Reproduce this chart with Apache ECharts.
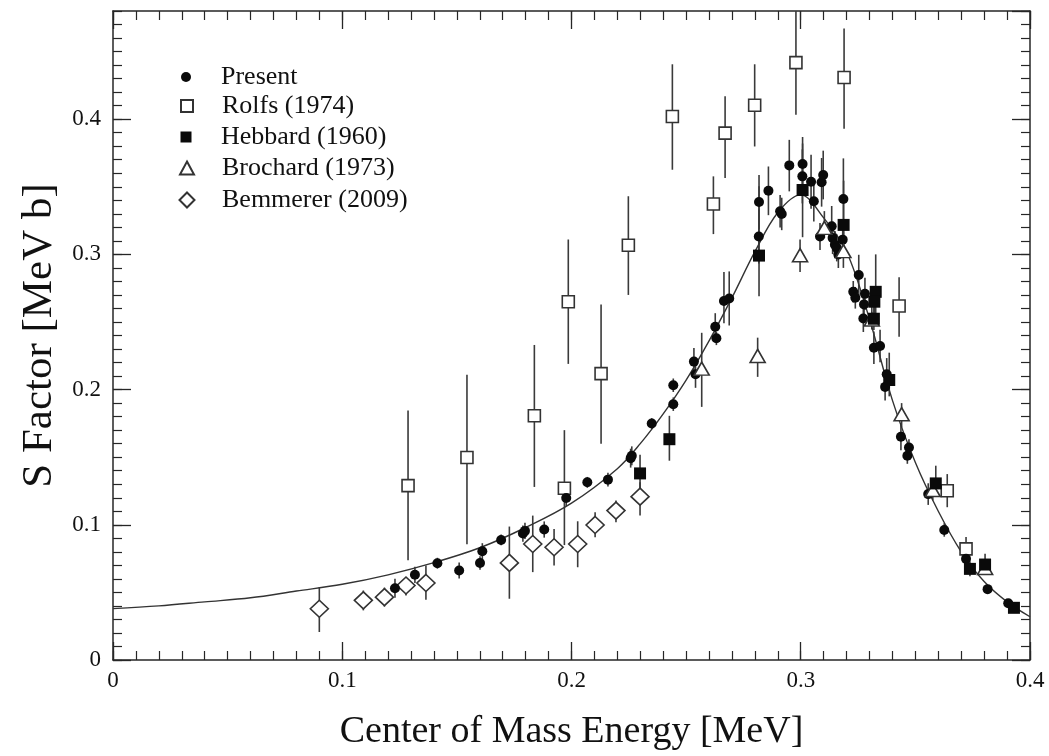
<!DOCTYPE html>
<html><head><meta charset="utf-8">
<script src="https://cdn.jsdelivr.net/npm/echarts@6/dist/echarts.min.js"></script>
<style>html,body{margin:0;padding:0;background:#fff}#c{width:1049px;height:756px}</style>
</head><body><div id="c"></div>
<script>
// ---- data ----
const fitX = [0, 0.02, 0.04, 0.06, 0.08, 0.10, 0.12, 0.14, 0.16, 0.18, 0.20, 0.22, 0.23, 0.24, 0.25, 0.26, 0.27, 0.28, 0.29, 0.30, 0.31, 0.32, 0.33, 0.34, 0.35, 0.36, 0.37, 0.38, 0.39, 0.40];
const fitY = [0.038, 0.040, 0.043, 0.046, 0.051, 0.056, 0.063, 0.072, 0.083, 0.098, 0.116, 0.1415, 0.160, 0.182, 0.207, 0.236, 0.268, 0.302, 0.331, 0.344, 0.327, 0.302, 0.252, 0.192, 0.146, 0.110, 0.080, 0.058, 0.043, 0.032];

// [energy, S, errLow, errHigh]
const presentData = [
  [0.1230,0.0531,0.0461,0.0601],[0.1317,0.0630,0.0570,0.0690],[0.1415,0.0716,0.0676,0.0756],
  [0.1510,0.0662,0.0602,0.0722],[0.1601,0.0718,0.0668,0.0768],[0.1611,0.0804,0.0744,0.0864],
  [0.1693,0.0888,0.0848,0.0928],[0.1788,0.0935,0.0875,0.0995],[0.1797,0.0955,0.0895,0.1015],
  [0.1881,0.0965,0.0905,0.1025],[0.1977,0.1198,0.1138,0.1258],[0.2069,0.1314,0.1274,0.1354],
  [0.2159,0.1334,0.1284,0.1384],[0.2258,0.1493,0.1423,0.1563],[0.2263,0.1510,0.1440,0.1580],
  [0.2350,0.1749,0.1709,0.1789],[0.2444,0.1892,0.1842,0.1942],[0.2444,0.2032,0.1982,0.2082],
  [0.2534,0.2207,0.2107,0.2307],[0.2541,0.2113,0.2013,0.2213],[0.2627,0.2465,0.2365,0.2565],
  [0.2632,0.2379,0.2329,0.2429],[0.2665,0.2655,0.2490,0.2870],[0.2688,0.2674,0.2474,0.2874],
  [0.2817,0.3132,0.2932,0.3332],[0.2818,0.3387,0.3187,0.3587],[0.2859,0.3471,0.3290,0.3650],
  [0.2910,0.3319,0.3199,0.3439],[0.2917,0.3299,0.3179,0.3419],[0.2950,0.3658,0.3466,0.3847],
  [0.3007,0.3577,0.3377,0.3777],[0.3008,0.3668,0.3468,0.3868],[0.3045,0.3537,0.3337,0.3737],
  [0.3057,0.3393,0.3243,0.3543],[0.3084,0.3132,0.3032,0.3232],[0.3091,0.3533,0.3353,0.3713],
  [0.3098,0.3587,0.3407,0.3767],[0.3135,0.3208,0.3058,0.3358],[0.3139,0.3122,0.3002,0.3242],
  [0.3149,0.3072,0.2972,0.3172],[0.3157,0.3048,0.2948,0.3148],[0.3164,0.2999,0.2899,0.3099],
  [0.3183,0.3109,0.2989,0.3229],[0.3186,0.3410,0.3110,0.3710],[0.3229,0.2723,0.2643,0.2803],
  [0.3238,0.2679,0.2599,0.2759],[0.3253,0.2847,0.2697,0.2997],[0.3276,0.2630,0.2530,0.2730],
  [0.3280,0.2708,0.2588,0.2828],[0.3273,0.2526,0.2426,0.2626],[0.3319,0.2310,0.2190,0.2430],
  [0.3346,0.2323,0.2203,0.2443],[0.3368,0.2020,0.1920,0.2120],[0.3375,0.2113,0.1993,0.2233],
  [0.3437,0.1651,0.1551,0.1751],[0.3465,0.1511,0.1451,0.1571],[0.3472,0.1572,0.1512,0.1632],
  [0.3556,0.1227,0.1147,0.1307],[0.3626,0.0962,0.0912,0.1012],[0.3721,0.0748,0.0708,0.0788],
  [0.3815,0.0524,0.0494,0.0554],[0.3905,0.0420,0.0390,0.0450]
];
const rolfsData = [
  [0.1287,0.1290,0.0738,0.1845],[0.1544,0.1498,0.0856,0.2110],[0.1838,0.1806,0.1280,0.2330],
  [0.1969,0.1270,0.0850,0.1700],[0.1986,0.2650,0.2190,0.3110],[0.2129,0.2118,0.1600,0.2630],
  [0.2248,0.3068,0.2700,0.3430],[0.2440,0.4020,0.3626,0.4406],[0.2619,0.3373,0.3150,0.3577],
  [0.2670,0.3897,0.3565,0.4170],[0.2799,0.4103,0.3798,0.4406],[0.2979,0.4418,0.4032,0.4900],
  [0.3189,0.4308,0.3930,0.4670],[0.3429,0.2618,0.2390,0.2830],[0.3639,0.1252,0.1130,0.1375],
  [0.3721,0.0822,0.0740,0.0910]
];
const hebbardData = [
  [0.2299,0.1380,0.1250,0.1518],[0.2427,0.1633,0.1474,0.1806],[0.2818,0.2991,0.2691,0.3503],
  [0.3008,0.3476,0.3127,0.3820],[0.3187,0.3218,0.3026,0.3545],[0.3327,0.2723,0.2556,0.3000],
  [0.3321,0.2650,0.2550,0.2750],[0.3319,0.2524,0.2440,0.2610],[0.3386,0.2071,0.1950,0.2273],
  [0.3589,0.1306,0.1228,0.1437],[0.3738,0.0674,0.0620,0.0730],[0.3804,0.0706,0.0640,0.0785],
  [0.3930,0.0386,0.0350,0.0420]
];
const brochardData = [
  [0.2568,0.2155,0.1872,0.2420],[0.2812,0.2249,0.2094,0.2384],[0.2997,0.2994,0.2870,0.3110],
  [0.3103,0.3196,0.3120,0.3320],[0.3186,0.3024,0.2900,0.3170],[0.3310,0.2519,0.2445,0.2680],
  [0.3440,0.1818,0.1720,0.1900],[0.3576,0.1257,0.1180,0.1330],[0.3804,0.0681,0.0640,0.0720]
];
const bemmererData = [
  [0.0900,0.0379,0.0207,0.0539],[0.1092,0.0441,0.0367,0.0514],[0.1184,0.0465,0.0395,0.0535],
  [0.1278,0.0551,0.0477,0.0613],[0.1365,0.0570,0.0445,0.0699],[0.1729,0.0718,0.0453,0.0987],
  [0.1831,0.0858,0.0650,0.1068],[0.1924,0.0834,0.0699,0.0969],[0.2027,0.0858,0.0686,0.1026],
  [0.2103,0.0999,0.0908,0.1092],[0.2194,0.1105,0.1018,0.1179],[0.2299,0.1208,0.1068,0.1314]
];
const xTitle = 'Center of Mass Energy [MeV]';
const yTitle = 'S Factor [MeV b]';

// ---- chart ----
const FONT = '"Liberation Serif", "DejaVu Serif", "Times New Roman", serif';
const INK = '#262626';
const TXT = '#111';

function axisPair(kind, pos, max, withLabel) {
  const common = { type: 'value', position: pos, min: 0, max: max, splitLine: { show: false } };
  const major = Object.assign({}, common, {
    interval: 0.1,
    axisLine: { show: true, onZero: false, lineStyle: { color: INK, width: 1.5 } },
    axisTick: { show: true, inside: true, length: 18, lineStyle: { color: INK, width: 1.3 } },
    axisLabel: withLabel ? { show: true, fontFamily: FONT, fontSize: 23, color: TXT, margin: kind === 'x' ? 9 : 12, showMaxLabel: kind === 'x' } : { show: false }
  });
  const minor = Object.assign({}, common, {
    interval: 0.01,
    axisLine: { show: false, onZero: false },
    axisTick: { show: true, inside: true, length: 9, lineStyle: { color: INK, width: 1.2 } },
    axisLabel: { show: false }
  });
  return [major, minor];
}

const xAxes = axisPair('x', 'bottom', 0.4, true).concat(axisPair('x', 'top', 0.4, false));
xAxes[0].name = xTitle; xAxes[0].nameLocation = 'middle'; xAxes[0].nameGap = 53;
xAxes[0].nameTextStyle = { fontFamily: FONT, fontSize: 38, color: TXT };
const yAxes = axisPair('y', 'left', 0.48, true).concat(axisPair('y', 'right', 0.48, false));
yAxes[0].name = yTitle; yAxes[0].nameLocation = 'middle'; yAxes[0].nameGap = 42;
yAxes[0].nameTextStyle = { fontFamily: FONT, fontSize: 43, color: TXT };

function errSeries(data) {
  return {
    type: 'custom', silent: true, clip: true, z: 2,
    data: data.map(d => [d[0], d[2], d[3]]),
    renderItem: function (params, api) {
      const p1 = api.coord([api.value(0), api.value(1)]);
      const p2 = api.coord([api.value(0), api.value(2)]);
      return { type: 'line', shape: { x1: p1[0], y1: p1[1], x2: p2[0], y2: p2[1] }, style: { stroke: '#3a3a3a', lineWidth: 1.6 } };
    }
  };
}
const openStyle = { color: '#fff', borderColor: '#333', borderWidth: 1.6, opacity: 1 };
const series = [
  errSeries(rolfsData), errSeries(bemmererData), errSeries(brochardData), errSeries(presentData), errSeries(hebbardData),
  { type: 'line', name: 'fit', data: fitX.map((x, i) => [x, fitY[i]]), smooth: 0.35, symbol: 'none',
    lineStyle: { color: '#333', width: 1.4 }, z: 3, silent: true },
  { type: 'scatter', name: 'Rolfs (1974)', data: rolfsData.map(d => [d[0], d[1]]), symbol: 'rect', symbolSize: 12, itemStyle: openStyle, z: 4 },
  { type: 'scatter', name: 'Bemmerer (2009)', data: bemmererData.map(d => [d[0], d[1]]), symbol: 'diamond', symbolSize: [18, 17], itemStyle: openStyle, z: 4 },
  { type: 'scatter', name: 'Present', data: presentData.map(d => [d[0], d[1]]), symbol: 'circle', symbolSize: 10, itemStyle: { color: '#0a0a0a', opacity: 1 }, z: 5 },
  { type: 'scatter', name: 'Brochard (1973)', data: brochardData.map(d => [d[0], d[1]]), symbol: 'triangle', symbolSize: [15, 13], itemStyle: openStyle, z: 6 },
  { type: 'scatter', name: 'Hebbard (1960)', data: hebbardData.map(d => [d[0], d[1]]), symbol: 'rect', symbolSize: 12, itemStyle: { color: '#0a0a0a', opacity: 1 }, z: 6 }
];

const legendItems = [
  { name: 'Present', w: 10, h: 10, row: 77 },
  { name: 'Rolfs (1974)', w: 12, h: 12, row: 106 },
  { name: 'Hebbard (1960)', w: 11, h: 11, row: 137 },
  { name: 'Brochard (1973)', w: 14, h: 13, row: 168 },
  { name: 'Bemmerer (2009)', w: 15, h: 15, row: 200 }
];
const legends = legendItems.map(it => ({
  data: [it.name], selectedMode: false, padding: 0,
  left: 186 - it.w / 2, top: it.row - 13,
  itemWidth: it.w, itemHeight: it.h,
  textStyle: { fontFamily: FONT, fontSize: 26, color: TXT, padding: [0, 0, 0, 35 - it.w / 2 - 5] }
}));

const chart = echarts.init(document.getElementById('c'), null, { renderer: 'canvas' });
chart.setOption({
  animation: false,
  backgroundColor: '#fff',
  grid: { left: 113, right: 19, top: 11, bottom: 93, containLabel: false },
  xAxis: xAxes,
  yAxis: yAxes,
  legend: legends,
  series: series
});
</script></body></html>
